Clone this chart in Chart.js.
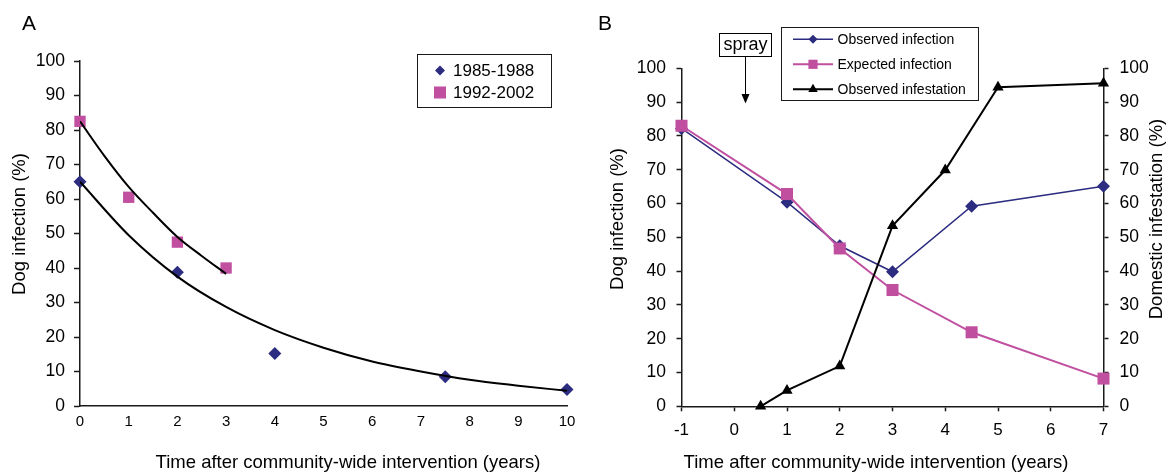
<!DOCTYPE html>
<html>
<head>
<meta charset="utf-8">
<script src="https://cdn.jsdelivr.net/npm/chart.js@4.4.1/dist/chart.umd.min.js"></script>
<style>
  body { margin: 0; background: #fff; width: 1171px; height: 475px; position: relative; overflow: hidden; }
  canvas { position: absolute; top: 0; }
  #chartA { left: 0; }
  #chartB { left: 590px; }
</style>
</head>
<body>
<canvas id="chartA" width="590" height="475"></canvas>
<canvas id="chartB" width="581" height="475"></canvas>
<script>
// ---- Panel A: dog infection after intervention, two periods ----
const A_EARLY_X = [0, 2, 4, 7.5, 10];
const A_EARLY_Y = [65, 38.8, 15.2, 8.5, 4.8];
const A_LATE_X = [0, 1, 2, 3];
const A_LATE_Y = [82.5, 60.5, 47.5, 40];
// fitted curves
const A_FIT_EARLY_X = [0, 1, 2, 3, 4, 5, 6, 7, 8, 9, 10];
const A_FIT_EARLY_Y = [65, 49.5, 37.5, 28.7, 22, 16.9, 12.9, 10, 7.6, 5.9, 4.4];
const A_FIT_LATE_X = [0, 0.5, 1, 1.5, 2, 2.5, 3];
const A_FIT_LATE_Y = [82.5, 72.5, 63.5, 56, 49, 43.5, 38.3];
const A_SERIES = ['1985-1988', '1992-2002'];

// ---- Panel B: observed vs expected infection, infestation ----
const B_INF_X = [-1, 1, 2, 3, 4.5, 7];
const B_OBS_INF = [82.2, 60.4, 47.5, 39.8, 59.2, 65.1];
const B_EXP_INF = [83, 62.8, 46.7, 34.4, 21.9, 8.2];
const B_INFEST_X = [0.5, 1, 2, 3, 4, 5, 7];
const B_OBS_INFEST = [0, 4.7, 11.9, 53.4, 69.9, 94.4, 95.6];
const B_SERIES = ['Observed infection', 'Expected infection', 'Observed infestation'];
const SPRAY_AT = 0.2;

const X_TITLE = 'Time after community-wide intervention (years)';
const Y_TITLE = 'Dog infection (%)';
const Y2_TITLE = 'Domestic infestation (%)';

const NAVY = '#2c2c80';
const PINK = '#c04fa0';
const INK = '#1a1a1a';
const FONT = "'Liberation Sans', Arial, sans-serif";

Chart.defaults.font.family = FONT;
Chart.defaults.color = '#000';

const pts = (xs, ys) => xs.map((x, i) => ({ x: x, y: ys[i] }));

function drawMarker(ctx, style, x, y, r) {
  ctx.beginPath();
  if (style === 'rect') {
    const s = r * Math.SQRT1_2;
    ctx.rect(x - s, y - s, 2 * s, 2 * s);
  } else if (style === 'rectRot') {
    ctx.moveTo(x - r, y); ctx.lineTo(x, y - r); ctx.lineTo(x + r, y); ctx.lineTo(x, y + r);
    ctx.closePath();
  } else if (style === 'triangle') {
    ctx.moveTo(x, y - r); ctx.lineTo(x + r * 0.866, y + r / 2); ctx.lineTo(x - r * 0.866, y + r / 2);
    ctx.closePath();
  }
  ctx.fill();
}

function label(ctx, str, x, y, rot, size) {
  ctx.save();
  ctx.translate(x, y);
  ctx.rotate(rot);
  ctx.font = size + 'px ' + FONT;
  ctx.fillStyle = '#000';
  ctx.textAlign = 'center';
  ctx.textBaseline = 'middle';
  ctx.fillText(str, 0, 0);
  ctx.restore();
}

const axisLine = { color: INK, width: 1.5 };

// ==================== PANEL A ====================
const overlayA = {
  id: 'overlayA',
  afterDraw(chart) {
    const ctx = chart.ctx;
    ctx.save();
    ctx.font = '21px ' + FONT;
    ctx.fillStyle = '#000';
    ctx.fillText('A', 22, 30);
    label(ctx, Y_TITLE, 20, 224, -Math.PI / 2, 18.5);
    label(ctx, X_TITLE, 348, 463, 0, 18.5);

    // legend box
    ctx.strokeStyle = INK;
    ctx.lineWidth = 1;
    ctx.strokeRect(417.5, 54.5, 134, 53);
    const rows = [70.5, 92.5];
    const ds = chart.data.datasets;
    ctx.font = '17px ' + FONT;
    ctx.textBaseline = 'middle';
    for (let i = 0; i < 2; i++) {
      ctx.fillStyle = ds[i].backgroundColor;
      drawMarker(ctx, ds[i].pointStyle, 440, rows[i], i === 0 ? 5 : 8.5);
      ctx.fillStyle = '#000';
      ctx.fillText(ds[i].label, 453, rows[i] + 1);
    }
    ctx.restore();
  }
};

new Chart(document.getElementById('chartA'), {
  type: 'scatter',
  data: {
    datasets: [
      {
        label: A_SERIES[0],
        data: pts(A_EARLY_X, A_EARLY_Y),
        pointStyle: 'rectRot',
        pointRadius: 6.5,
        backgroundColor: NAVY,
        borderColor: NAVY,
        borderWidth: 0,
        clip: false,
        order: 1
      },
      {
        label: A_SERIES[1],
        data: pts(A_LATE_X, A_LATE_Y),
        pointStyle: 'rect',
        pointRadius: 8,
        backgroundColor: PINK,
        borderColor: PINK,
        borderWidth: 0,
        clip: false,
        order: 2
      },
      {
        label: 'fit early',
        data: pts(A_FIT_EARLY_X, A_FIT_EARLY_Y),
        showLine: true,
        pointRadius: 0,
        borderColor: '#000',
        borderWidth: 2,
        cubicInterpolationMode: 'monotone',
        order: 0
      },
      {
        label: 'fit late',
        data: pts(A_FIT_LATE_X, A_FIT_LATE_Y),
        showLine: true,
        pointRadius: 0,
        borderColor: '#000',
        borderWidth: 2,
        cubicInterpolationMode: 'monotone',
        order: 0
      }
    ]
  },
  options: {
    responsive: false,
    animation: false,
    layout: { padding: { top: 61, right: 23, bottom: 0, left: 0 } },
    plugins: { legend: { display: false }, tooltip: { enabled: false } },
    scales: {
      x: {
        type: 'linear', min: 0, max: 10,
        afterFit: (s) => { s.height = 69; },
        ticks: { stepSize: 1, font: { size: 15 }, padding: 7 },
        grid: { drawOnChartArea: false, drawTicks: false },
        border: axisLine
      },
      y: {
        min: 0, max: 100,
        afterFit: (s) => { s.width = 80; },
        ticks: { stepSize: 10, font: { size: 17.5 }, padding: 9 },
        grid: { drawOnChartArea: false, drawTicks: true, tickLength: 6, color: INK, tickWidth: 1.5 },
        border: axisLine
      }
    }
  },
  plugins: [overlayA]
});

// ==================== PANEL B ====================
const overlayB = {
  id: 'overlayB',
  afterDraw(chart) {
    const ctx = chart.ctx;
    ctx.save();
    ctx.font = '21px ' + FONT;
    ctx.fillStyle = '#000';
    ctx.fillText('B', 8, 30);
    label(ctx, Y_TITLE, 28, 219, -Math.PI / 2, 18.5);
    label(ctx, Y2_TITLE, 566.5, 219, -Math.PI / 2, 18.5);
    label(ctx, X_TITLE, 286, 463, 0, 18.5);

    // spray annotation
    const ax = Math.round(chart.scales.x.getPixelForValue(SPRAY_AT)) + 0.5;
    ctx.strokeStyle = '#000';
    ctx.lineWidth = 1;
    ctx.strokeRect(129.5, 33.5, 52, 23);
    label(ctx, 'spray', 155.5, 45, 0, 18);
    ctx.beginPath();
    ctx.moveTo(ax, 56.5);
    ctx.lineTo(ax, 95);
    ctx.stroke();
    ctx.beginPath();
    ctx.moveTo(ax - 4, 94); ctx.lineTo(ax + 4, 94); ctx.lineTo(ax, 103.5);
    ctx.closePath();
    ctx.fillStyle = '#000';
    ctx.fill();

    // legend box
    ctx.strokeStyle = INK;
    ctx.strokeRect(191.5, 27.5, 197, 73);
    const rows = [39.3, 64.3, 89.3];
    const sizes = [4.5, 6.5, 5.5];
    const ds = chart.data.datasets;
    ctx.font = '14px ' + FONT;
    ctx.textBaseline = 'middle';
    for (let i = 0; i < 3; i++) {
      ctx.strokeStyle = ds[i].borderColor;
      ctx.lineWidth = ds[i].borderWidth;
      ctx.beginPath();
      ctx.moveTo(203, rows[i]);
      ctx.lineTo(243, rows[i]);
      ctx.stroke();
      ctx.fillStyle = ds[i].backgroundColor;
      drawMarker(ctx, ds[i].pointStyle, 223, rows[i], sizes[i]);
      ctx.fillStyle = '#000';
      ctx.fillText(ds[i].label, 247.5, rows[i] + 1);
    }
    ctx.restore();
  }
};

new Chart(document.getElementById('chartB'), {
  type: 'scatter',
  data: {
    datasets: [
      {
        label: B_SERIES[0],
        data: pts(B_INF_X, B_OBS_INF),
        showLine: true,
        pointStyle: 'rectRot',
        pointRadius: 6.5,
        borderColor: NAVY,
        backgroundColor: NAVY,
        pointBorderWidth: 0,
        borderWidth: 1.5,
        clip: false,
        order: 2
      },
      {
        label: B_SERIES[1],
        data: pts(B_INF_X, B_EXP_INF),
        showLine: true,
        pointStyle: 'rect',
        pointRadius: 8.5,
        borderColor: PINK,
        backgroundColor: PINK,
        pointBorderWidth: 0,
        borderWidth: 2,
        clip: false,
        order: 1
      },
      {
        label: B_SERIES[2],
        data: pts(B_INFEST_X, B_OBS_INFEST),
        yAxisID: 'y2',
        showLine: true,
        pointStyle: 'triangle',
        pointRadius: 6.5,
        borderColor: '#000',
        backgroundColor: '#000',
        pointBorderWidth: 0,
        borderWidth: 2,
        clip: false,
        order: 0
      }
    ]
  },
  options: {
    responsive: false,
    animation: false,
    layout: { padding: { top: 68.3, right: 0, bottom: 0, left: 0 } },
    plugins: { legend: { display: false }, tooltip: { enabled: false } },
    scales: {
      x: {
        type: 'linear', min: -1, max: 7,
        afterFit: (s) => { s.height = 68.7; },
        ticks: { stepSize: 1, font: { size: 17 }, padding: 8.5 },
        grid: { drawOnChartArea: false, drawTicks: true, tickLength: 5, color: INK, tickWidth: 1.5 },
        border: axisLine
      },
      y: {
        position: 'left', min: 0, max: 100,
        afterFit: (s) => { s.width = 91.5; },
        ticks: { stepSize: 10, font: { size: 17.5 }, padding: 10.5 },
        grid: { drawOnChartArea: false, drawTicks: true, tickLength: 5, color: INK, tickWidth: 1.5 },
        border: axisLine
      },
      y2: {
        position: 'right', min: 0, max: 100,
        afterFit: (s) => { s.width = 67.5; },
        ticks: { stepSize: 10, font: { size: 17.5 }, padding: 11 },
        grid: { drawOnChartArea: false, drawTicks: true, tickLength: 5, color: INK, tickWidth: 1.5 },
        border: axisLine
      }
    }
  },
  plugins: [overlayB]
});
</script>
</body>
</html>
